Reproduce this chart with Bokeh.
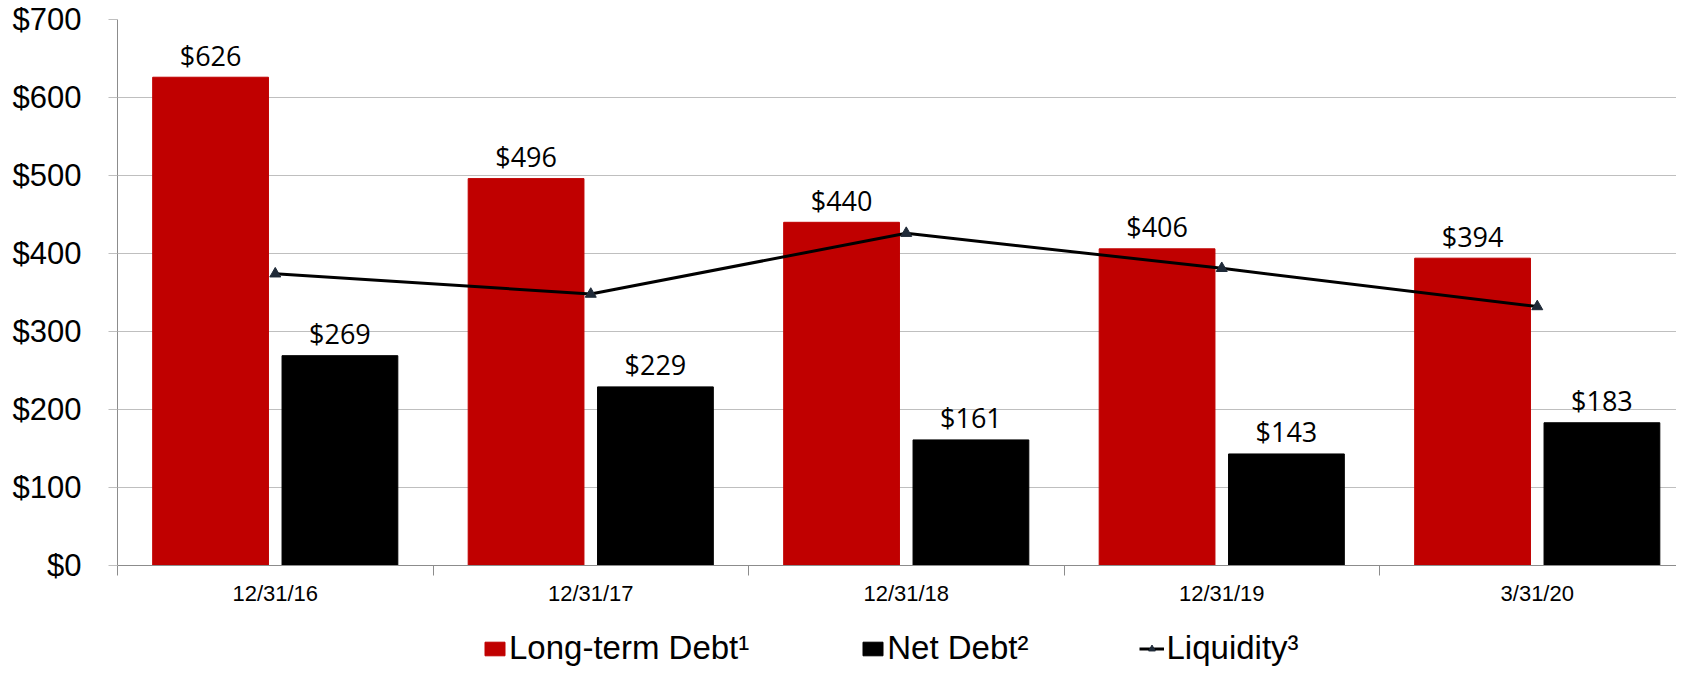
import numpy as np
from bokeh.plotting import figure
from bokeh.layouts import column
from bokeh.models import Range1d, FixedTicker, NumeralTickFormatter, Legend, LegendItem
from bokeh.core.properties import value
from bokeh.embed import file_html
from bokeh.resources import INLINE

# ---- data ----
periods = ["12/31/16", "12/31/17", "12/31/18", "12/31/19", "3/31/20"]
long_term_debt = [626, 496, 440, 406, 394]
net_debt = [269, 229, 161, 143, 183]
liquidity = [374, 348, 426, 381, 332]
y_ticks = [0, 100, 200, 300, 400, 500, 600, 700]
series_names = ["Long-term Debt\u00b9", "Net Debt\u00b2", "Liquidity\u00b3"]

RED, BLACK, MARK = "#C00000", "#000000", "#1F2A38"

# ---- layout ----
W, H1, H2 = 1676, 612, 55
LEFT, TOP, BOTTOM = 117, 19, 47
frame_w = W - LEFT
cat_px = 315.5
n = len(periods)
idx = np.arange(n)
centers = idx + 0.5
off, bw = 0.205, 0.367

p = figure(width=W, height=H1, x_range=Range1d(0, frame_w / cat_px), y_range=Range1d(0, 700),
           output_backend="svg", toolbar_location=None,
           min_border_left=LEFT, min_border_right=0, min_border_top=TOP, min_border_bottom=BOTTOM)
p.outline_line_color = None
p.background_fill_color = "white"
p.border_fill_color = "white"

p.vbar(x=centers - off, top=long_term_debt, width=bw, fill_color=RED, line_color=RED)
p.vbar(x=centers + off, top=net_debt, width=bw, fill_color=BLACK, line_color=BLACK)
p.line(centers, liquidity, line_color=BLACK, line_width=3)
p.scatter(centers, liquidity, marker="triangle", size=11, fill_color=MARK, line_color=MARK)

lbl_font = value("Open Sans")
p.text(x=centers - off, y=long_term_debt, text=[f"${v}" for v in long_term_debt],
       text_font=lbl_font, text_font_size="27px", text_align="center", text_baseline="alphabetic",
       y_offset=-22, text_color="#000000")
p.text(x=centers + off, y=net_debt, text=[f"${v}" for v in net_debt],
       text_font=lbl_font, text_font_size="27px", text_align="center", text_baseline="alphabetic",
       y_offset=-22, text_color="#000000")

# y axis
p.yaxis.ticker = FixedTicker(ticks=y_ticks)
p.yaxis.formatter = NumeralTickFormatter(format="$0")
p.yaxis.major_label_text_font = "Liberation Sans"
p.yaxis.major_label_text_font_size = "31px"
p.yaxis.major_label_text_color = "#000000"
p.yaxis.major_tick_out = 9
p.yaxis.major_tick_in = 0
p.yaxis.major_tick_line_color = "#BFBFBF"
p.yaxis.minor_tick_line_color = None
p.yaxis.axis_line_color = "#8C8C8C"
p.yaxis.major_label_standoff = 27
p.ygrid.grid_line_color = "#BFBFBF"
p.xgrid.visible = False

# x axis
p.xaxis.ticker = FixedTicker(ticks=list(centers), minor_ticks=list(np.arange(n + 1)))
p.xaxis.major_label_overrides = {float(c): lab for c, lab in zip(centers, periods)}
p.xaxis.major_label_text_font = "Liberation Sans"
p.xaxis.major_label_text_font_size = "22px"
p.xaxis.major_label_text_color = "#000000"
p.xaxis.major_tick_out = 0
p.xaxis.major_tick_in = 0
p.xaxis.minor_tick_out = 10
p.xaxis.minor_tick_in = 0
p.xaxis.minor_tick_line_color = "#8C8C8C"
p.xaxis.axis_line_color = "#8C8C8C"
p.xaxis.major_label_standoff = 5

# ---- legend strip (own small figure below the chart; series kept far out of view) ----
q = figure(width=W, height=H2, x_range=Range1d(-200, -100), y_range=Range1d(-2000, -1000),
           x_axis_type=None, y_axis_type=None, output_backend="svg", toolbar_location=None,
           min_border=0)
q.outline_line_color = None
q.xgrid.visible = False
q.ygrid.visible = False
k_ltd = q.vbar(x=centers - off, top=long_term_debt, width=bw, fill_color=RED, line_color=RED)
k_nd = q.vbar(x=centers + off, top=net_debt, width=bw, fill_color=BLACK, line_color=BLACK)
k_line = q.line(centers, liquidity, line_color=BLACK, line_width=3)
k_mark = q.scatter(centers, liquidity, marker="triangle", size=11, fill_color=MARK, line_color=MARK)

legend = Legend(items=[
    LegendItem(label=series_names[0], renderers=[k_ltd]),
    LegendItem(label=series_names[1], renderers=[k_nd]),
    LegendItem(label=series_names[2], renderers=[k_line, k_mark]),
], orientation="horizontal", location=(365, 0))
legend.label_text_font = "Liberation Sans"
legend.label_text_font_size = "33px"
legend.label_text_color = "#000000"
legend.glyph_width = 25
legend.glyph_height = 17
legend.label_standoff = 2
legend.spacing = 111
legend.padding = 0
legend.margin = 0
legend.background_fill_alpha = 0
legend.border_line_color = None
q.add_layout(legend)

layout = column(p, q, spacing=0)
open("out.html", "w").write(file_html(layout, INLINE))
